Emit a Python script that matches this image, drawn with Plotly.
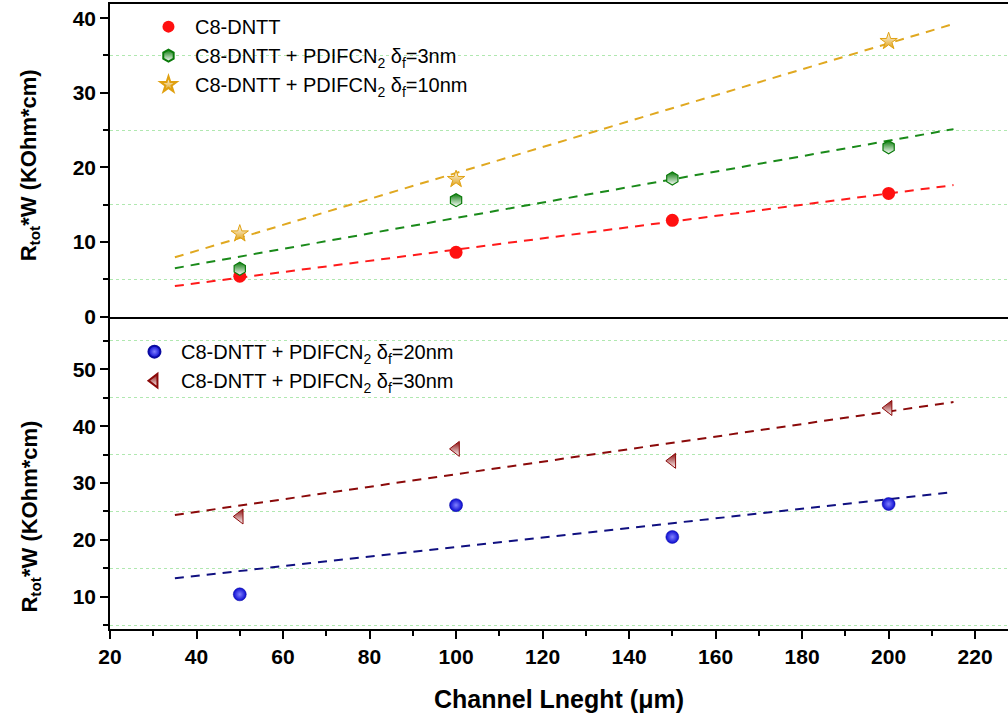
import numpy as np
import plotly.graph_objects as go
from plotly.subplots import make_subplots

# ---- data ----
x_all = [50, 100, 150, 200]
y_c8 = [5.4, 8.6, 12.9, 16.5]
y_3nm = [6.4, 15.6, 18.5, 22.7]
x_10nm = [50, 100, 200]
y_10nm = [11.1, 18.4, 36.9]
y_20nm = [10.4, 26.1, 20.5, 26.3]
y_30nm = [24.1, 36.0, 33.9, 43.2]
fit_x_range = [35, 215]

x_ticks = [20, 40, 60, 80, 100, 120, 140, 160, 180, 200, 220]

names = {
    "c8": "C8-DNTT",
    "3": "C8-DNTT + PDIFCN<sub>2</sub> δ<sub>f</sub>=3nm",
    "10": "C8-DNTT + PDIFCN<sub>2</sub> δ<sub>f</sub>=10nm",
    "20": "C8-DNTT + PDIFCN<sub>2</sub> δ<sub>f</sub>=20nm",
    "30": "C8-DNTT + PDIFCN<sub>2</sub> δ<sub>f</sub>=30nm",
}
y_title = "R<sub>tot</sub>*W (KOhm*cm)"
x_title = "Channel Lneght (μm)"

fig = make_subplots(rows=2, cols=1, shared_xaxes=True, vertical_spacing=0)

def fit_line(xs, ys):
    k, b = np.polyfit(xs, ys, 1)
    fx = np.array(fit_x_range, dtype=float)
    return fx, k * fx + b

series = [
    (x_all, y_c8, names["c8"], "#ff1a1a", dict(symbol="circle", color="#ff1010"), 1, "legend"),
    (x_all, y_3nm, names["3"], "#1a8a1a",
     dict(symbol="hexagon", color="#0a7a0a", gradient=dict(type="vertical", color="white"),
          line=dict(color="#0a7a0a", width=1.2)), 1, "legend"),
    (x_10nm, y_10nm, names["10"], "#e0a820",
     dict(symbol="star", color="white", gradient=dict(type="vertical", color="#e0a010"),
          line=dict(color="#e0a010", width=1)), 1, "legend"),
    (x_all, y_20nm, names["20"], "#101080",
     dict(symbol="circle", color="#0a0ad0", gradient=dict(type="radial", color="#8080ff"),
          line=dict(color="#0a0aa0", width=0.5)), 2, "legend2"),
    (x_all, y_30nm, names["30"], "#8b0a0a",
     dict(symbol="triangle-left", color="#8b0a0a", gradient=dict(type="vertical", color="white"),
          line=dict(color="#8b0a0a", width=1)), 2, "legend2"),
]

for xs, ys, name, lcol, marker, row, leg in series:
    fx, fy = fit_line(xs, ys)
    fig.add_trace(go.Scatter(x=fx, y=fy, mode="lines", showlegend=False, hoverinfo="skip",
                             line=dict(color=lcol, width=2, dash="9px,7px")), row=row, col=1)
    m = dict(size=13)
    m.update(marker)
    fig.add_trace(go.Scatter(x=xs, y=ys, mode="markers", name=name, marker=m,
                             legend=leg), row=row, col=1)

FONT = "Liberation Sans, Arial"
tickfont = dict(family=FONT, size=21, color="black", weight="bold")
grid = dict(showgrid=True, gridcolor="#b0e8b0", griddash="dot", gridwidth=1)

fig.update_xaxes(range=[20, 227.6], showgrid=False, zeroline=False, showline=True,
                 linecolor="black", linewidth=1.5)
fig.update_xaxes(row=1, col=1, mirror=True, ticks="", showticklabels=False)
fig.update_xaxes(row=2, col=1, ticks="outside", ticklen=8, tickwidth=1.5, tickcolor="black",
                 tickvals=x_ticks, tickfont=tickfont,
                 minor=dict(dtick=10, ticks="outside", ticklen=5, tickwidth=1.5, tickcolor="black"),
                 title=dict(text=x_title, standoff=24,
                            font=dict(family=FONT, size=25, color="black", weight="bold")))

fig.update_yaxes(showgrid=False, zeroline=False, showline=True, linecolor="black", linewidth=1.5,
                 ticks="outside", ticklen=8, tickwidth=1.5, tickcolor="black", tickfont=tickfont)
fig.update_yaxes(row=1, col=1, range=[0, 41.9], dtick=10, tick0=0,
                 minor=dict(dtick=10, tick0=5, ticks="outside", ticklen=5, tickwidth=1.5,
                            tickcolor="black", **grid))
fig.update_yaxes(row=2, col=1, range=[4.3, 59.3], dtick=10, tick0=0,
                 minor=dict(dtick=10, tick0=5, ticks="outside", ticklen=5, tickwidth=1.5,
                            tickcolor="black", **grid))

ytitle_font = dict(family=FONT, size=22, color="black", weight="bold")
for ycen in (0.742, 0.18):
    fig.add_annotation(text=y_title, xref="paper", yref="paper", x=-0.089, y=ycen,
                       xanchor="center", yanchor="middle", textangle=-90,
                       showarrow=False, font=ytitle_font)

legfont = dict(family=FONT, size=20, color="black")
fig.update_layout(
    width=1008, height=718,
    margin=dict(l=110, r=0, t=4, b=89),
    paper_bgcolor="white", plot_bgcolor="white",
    legend=dict(x=0.0356, y=0.995, xanchor="left", yanchor="top", font=legfont,
                bgcolor="rgba(0,0,0,0)", itemwidth=43, itemsizing="constant"),
    legend2=dict(x=0.02, y=0.475, xanchor="left", yanchor="top", font=legfont,
                 bgcolor="rgba(0,0,0,0)", itemwidth=43, itemsizing="constant"),
)

fig.write_html("out.html")
